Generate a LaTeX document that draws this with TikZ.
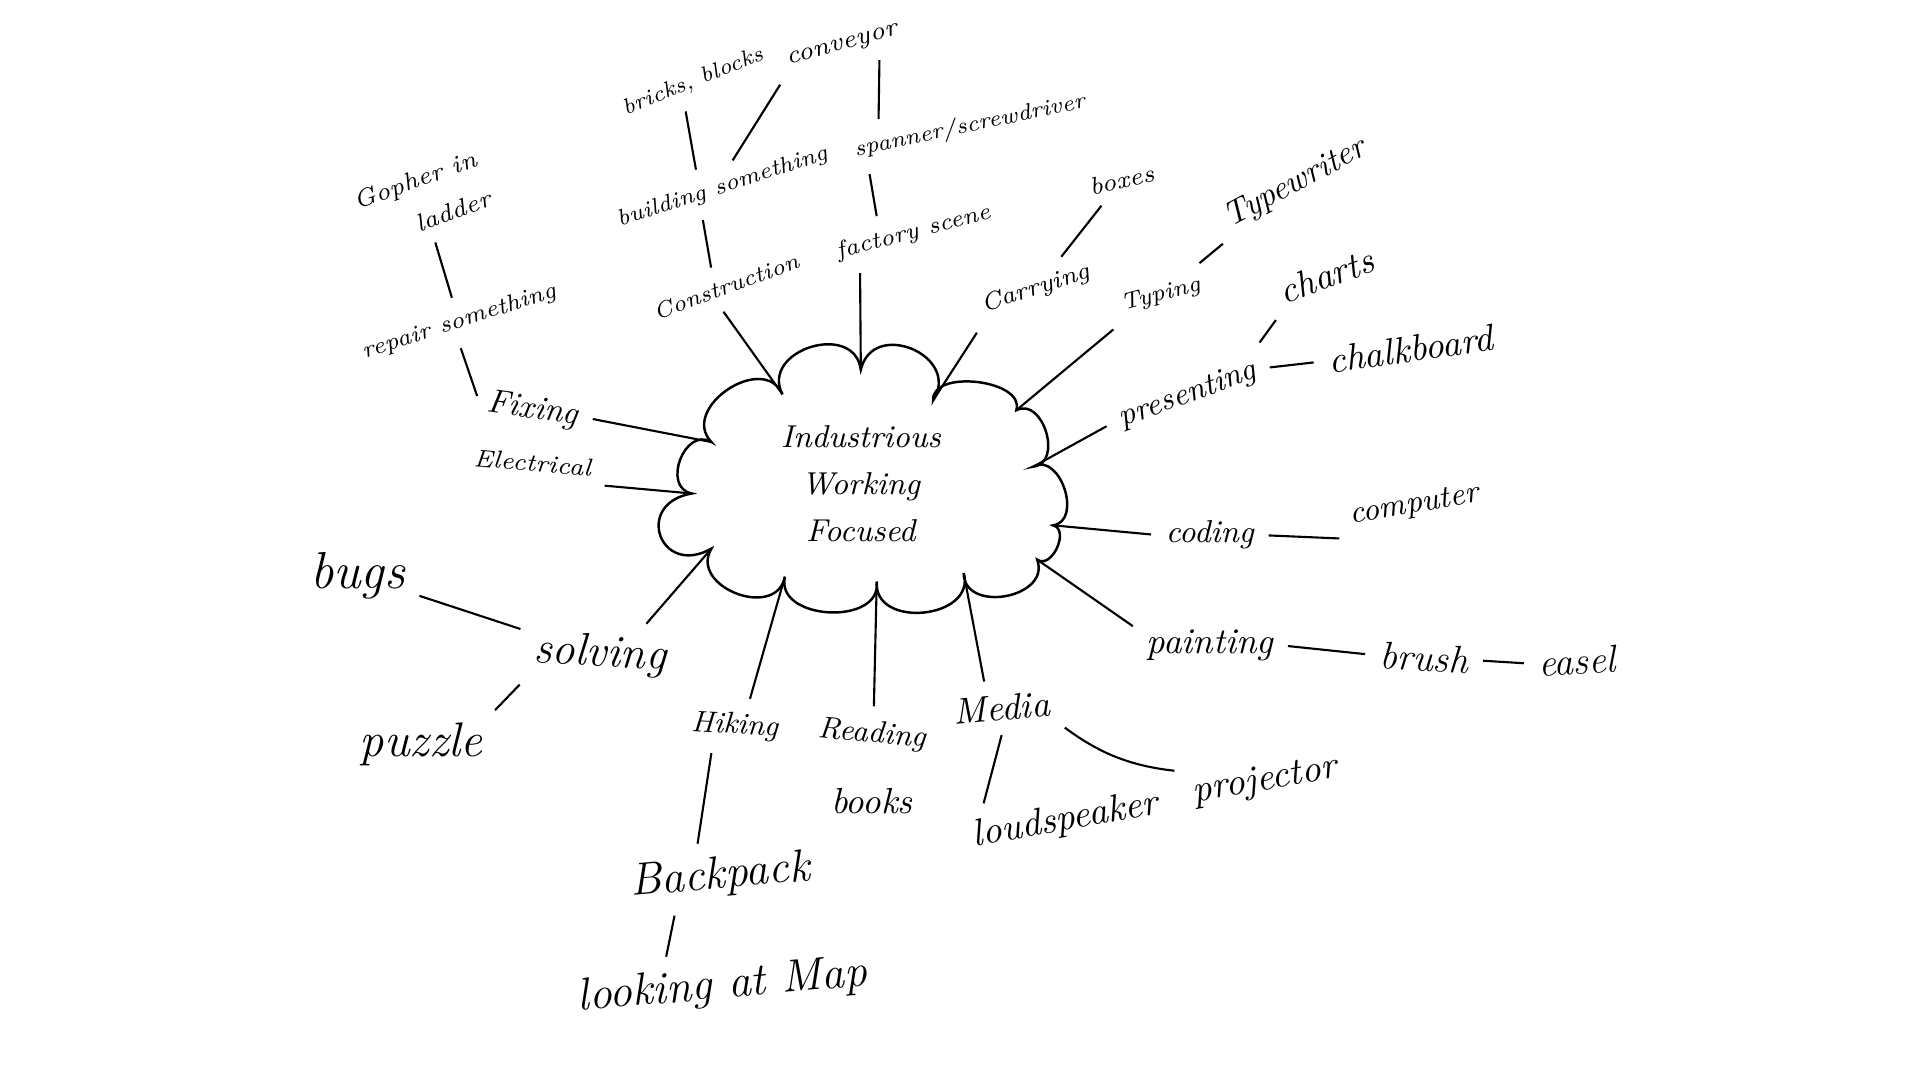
\documentclass[tikz,border=0pt]{standalone}

\tikzset{
  t/.style={inner sep=2pt, font=\itshape\fontsize{#1}{13}\selectfont},
  puff/.style={bend left=100, looseness=#1},
  spoke/.style={line width=0.6pt, shorten >=2pt},
  link/.style={line width=0.6pt, shorten <=2pt, shorten >=2pt},
}

\begin{document}
\begin{tikzpicture}[x=0.012245cm,y=-0.012245cm]

\useasboundingbox (0,0) rectangle (1568,882);

%====================================================
% Centre cloud
%====================================================
\coordinate (k1) at (639,322);
\coordinate (k2) at (703,302);
\coordinate (k3) at (762,327);
\coordinate (k4) at (830,335);
\coordinate (k5) at (844,381);
\coordinate (k6) at (860,429);
\coordinate (k7) at (847,457);
\coordinate (k8) at (787,468);
\coordinate (k9) at (716,475);
\coordinate (k10) at (641,471);
\coordinate (k11) at (581,448);
\coordinate (k12) at (565,403);
\coordinate (k13) at (581,361);

\draw[line width=0.7pt] (k1) to[puff=1.55] (k2) to[puff=1.73] (k3)
  to[puff=0.97] (k4) to[puff=1.3] (k5) to[puff=1.25] (k6)
  to[puff=1.2] (k7) to[puff=1.4] (k8) to[puff=1.4] (k9)
  to[puff=1.25] (k10) to[puff=1.45] (k11) to[puff=2.6] (k12)
  to[puff=1.45] (k13) to[puff=1.4] (k1);

\node[align=center, font=\itshape\fontsize{9}{13.5}\selectfont] (cloud)
  at (703,395) {Industrious\\Working\\Focused};

%====================================================
% Top branches
%====================================================
\node[t=6.5,rotate=20] (constr) at (593,234) {Construction};
\node[t=6.5,rotate=18] (building) at (590,153) {building something};
\node[t=6.3,rotate=22] (bricks) at (566,67) {bricks, blocks};
\node[t=7.2,rotate=15] (conveyor) at (688,38) {conveyor};
\node[t=6.4,rotate=12] (spanner) at (792,103) {spanner/screwdriver};
\node[t=6.7,rotate=15] (factory) at (746,190) {factory scene};
\node[t=7,rotate=18] (carrying) at (846,236) {Carrying};
\node[t=7,rotate=12] (boxes) at (916,147) {boxes};

% Spokes
\draw[spoke] (k1) -- (constr.231);
\draw[spoke] (k2) -- (factory.197);
\draw[spoke] (k3) -- (carrying.south west);

% Links
\draw[link] (constr.119) -- (building.213);
\draw[link] (building.139) -- (bricks.227);
\draw[link] (building.55) -- (conveyor.south west);
\draw[link] (factory.150) -- (spanner.190);
\draw[link] (spanner.168) -- (conveyor.-25);
\draw[link] (carrying) -- (boxes);

%====================================================
% Right branches
%====================================================
\node[t=6.6,rotate=15] (typing) at (948,241) {Typing};
\node[t=9.5,rotate=28] (typewriter) at (1058,150) {Typewriter};
\node[t=9,rotate=20] (presenting) at (970,323) {presenting};
\node[t=10.5,rotate=20] (charts) at (1083,225) {charts};
\node[t=10.6,rotate=8] (chalkboard) at (1152,285) {chalkboard};
\node[t=9] (coding) at (988,437) {coding};
\node[t=9,rotate=10] (computer) at (1155,413) {computer};
\node[t=10.3] (painting) at (988,527) {painting};
\node[t=11,rotate=-3] (brush) at (1163,537) {brush};
\node[t=11,rotate=3] (easel) at (1288,540) {easel};

% Spokes
\draw[spoke] (k4) -- (typing.south west);
\draw[spoke] (k5) -- (presenting.west);
\draw[spoke] (k6) -- (coding.west);
\draw[spoke] (k7) -- (painting.168);

% Links
\draw[link] (typing) -- (typewriter);
\draw[link] (presenting.north east) -- (charts.south west);
\draw[link] (presenting.east) -- (chalkboard.west);
\draw[link] (coding.east) -- (computer.south west);
\draw[link] (painting.east) -- (brush.west);
\draw[link] (brush.east) -- (easel.west);

%====================================================
% Bottom branches
%====================================================
\node[t=10.4,rotate=5] (media) at (818,578) {Media};
\node[t=10.8,rotate=10] (projector) at (1033,638) {projector};
\node[t=10.8,rotate=10] (speaker) at (870,670) {loudspeaker};
\node[t=8.7,rotate=-5] (reading) at (712,600) {Reading};
\node[t=10.3] (books) at (712,654) {books};
\node[t=8.5,rotate=-3] (hiking) at (600,593) {Hiking};
\node[t=13,rotate=5] (backpack) at (588,716) {Backpack};
\node[t=13,rotate=5] (map) at (590,806) {looking at Map};

% Spokes
\draw[spoke] (k8) -- (media.125);
\draw[spoke] (k9) -- (reading.north);
\draw[spoke] (k10) -- (hiking.60);

% Links
\draw[link] (media.south east) to[bend right=15] (projector.north west);
\draw[link] (media.south) -- (speaker.163);
\draw[link] (hiking.225) -- (backpack.127);
\draw[link] (backpack.211) -- (map.153);

%====================================================
% Left branches
%====================================================
\node[t=13,rotate=-3] (solving) at (490,535) {solving};
\node[t=14.8] (bugs) at (292,470) {bugs};
\node[t=13.8] (puzzle) at (344,608) {puzzle};
\node[t=7,rotate=-5] (electrical) at (435,378) {Electrical};
\node[t=9.5,rotate=-8] (fixing) at (435,335) {Fixing};
\node[t=6.7,rotate=18] (repair) at (375,263) {repair something};
\node[rotate=20,align=right,inner sep=2pt,font=\itshape\fontsize{7}{12}\selectfont]
  (gopher) at (345,163) {Gopher in\\ladder};

% Spokes
\draw[spoke] (k11) -- (solving.35);
\draw[spoke] (k12) -- (electrical.south east);
\draw[spoke] (k13) -- (fixing.east);

% Links
\draw[link] (solving) -- (bugs);
\draw[link] (solving.south west) -- (puzzle.north east);
\draw[link] (fixing.west) -- (repair.250);
\draw[link] (repair) -- (gopher);

\end{tikzpicture}
\end{document}
